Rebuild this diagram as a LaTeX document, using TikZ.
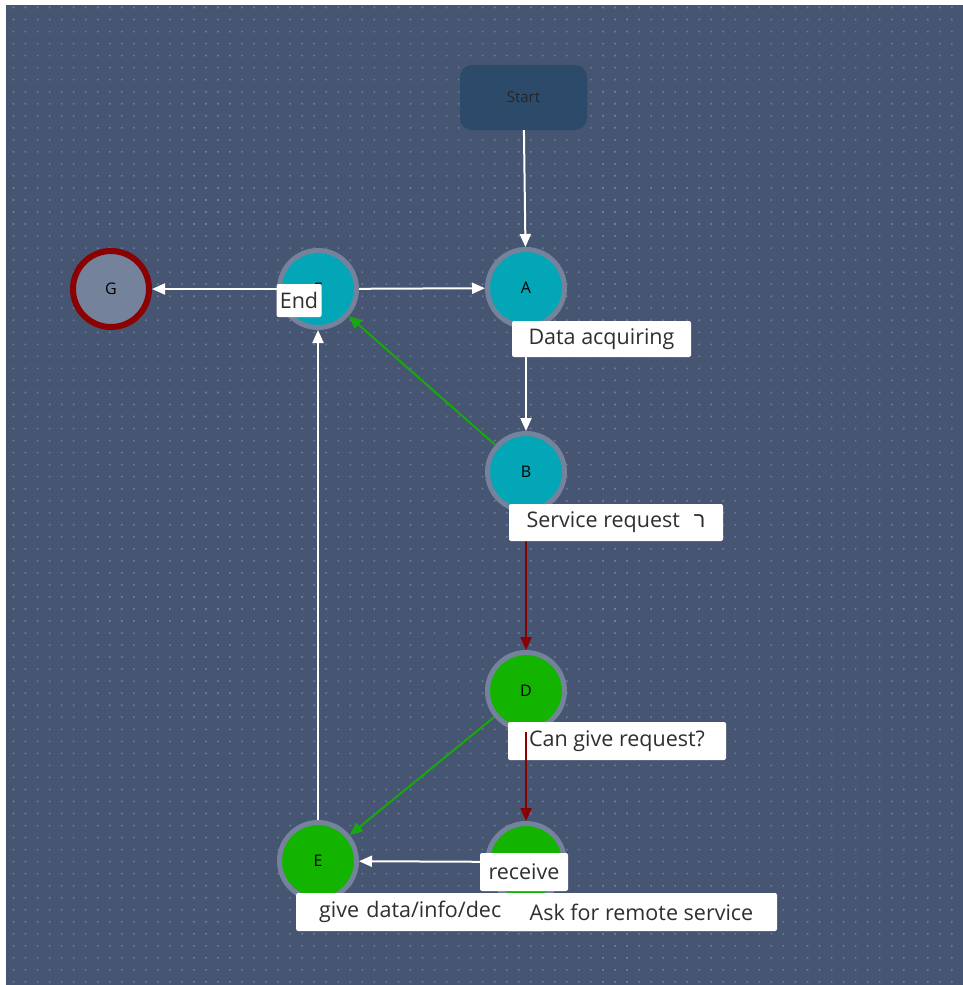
\documentclass[tikz,border=0pt]{standalone}
\usepackage{fontspec}
\setmainfont{Open Sans}
\newfontfamily\hebfont[Script=Hebrew]{Liberation Sans}
\usetikzlibrary{arrows.meta}
\definecolor{canvas}{HTML}{465571}
\definecolor{gridDot}{HTML}{6E7D98}
\definecolor{ring}{HTML}{75829C}
\definecolor{tealFill}{HTML}{02A6B7}
\definecolor{greenFill}{HTML}{12B400}
\definecolor{startFill}{HTML}{2C4A6A}
\definecolor{darkRed}{HTML}{8B0000}
\definecolor{greenEdge}{HTML}{17A80D}
\definecolor{tagText}{HTML}{2F2F2F}
\begin{document}
\begin{tikzpicture}[x=1pt,y=-1pt,
  state/.style={circle, minimum size=77pt, inner sep=0pt, line width=5pt,
    draw=ring, text=black, font=\fontsize{16}{18}\selectfont},
  tealstate/.style={state, fill=tealFill},
  greenstate/.style={state, fill=greenFill},
  finalstate/.style={state, fill=ring, draw=darkRed, line width=6pt, minimum size=76pt},
  startbox/.style={rectangle, rounded corners=12pt, fill=startFill,
    minimum width=127pt, minimum height=65pt, text=black!85,
    font=\fontsize{15}{17}\selectfont},
  tag/.style={rectangle, fill=white, rounded corners=2pt, inner sep=0pt,
    text=tagText, font=\fontsize{21.5}{25}\selectfont},
  flow/.style={line width=2pt, draw=white, -{Triangle[length=13pt,width=11pt,fill=white]}},
  flowred/.style={flow, draw=darkRed, -{Triangle[length=13pt,width=11pt,fill=darkRed]}},
  flowgreen/.style={flow, draw=greenEdge, -{Triangle[length=13pt,width=11pt,fill=greenEdge]}},
]
\useasboundingbox (0,0) rectangle (963,985);
\fill[white] (0,0) rectangle (963,985);
\fill[canvas] (6,5) rectangle (963,985);
% dotted grid
\fill[gridDot] \foreach \i in {0,...,79} { \foreach \j in {0,...,81} {
  (12.7+12.03*\i, 6.7+12.03*\j) rectangle ++(1.6,1.6) } };

% states
\node[startbox] (start) at (523.5,97.5) {Start};
\node[tealstate] (a) at (526,288) {A};
\node[tealstate] (f) at (318,289) {F};
\node[finalstate] (g) at (111,289) {G};
\node[tealstate] (b) at (526,472) {B};
\node[greenstate] (d) at (526,691) {D};
\node[greenstate] (c) at (526,862) {};
\node[greenstate] (e) at (318,861) {E};

% transitions
\draw[flow] (start) -- (a);
\draw[flow] (f) -- (a);
\draw[flow] (f) -- (g);
\draw[flow] (a) -- (b);
\draw[flowgreen] (b) -- (f);
\draw[flowred] (b) -- (d);
\draw[flowgreen] (d) -- (e);
\draw[flow] (c) -- (e);
\draw[flow] (e) -- (f);

% state labels
\node[tag, minimum width=179pt, minimum height=36pt] (la) at (601.5,339) {Data acquiring};
\node[tag, minimum width=214pt, minimum height=37pt] (lb) at (616,522.5)
  {Service request\hspace{14pt}{\hebfont ר}};
\node[tag, minimum width=218pt, minimum height=38pt] (ld) at (617,741) {Can give request?};
\draw[flowred] (d) -- (c);
\node[tag, anchor=west, inner xsep=23pt, minimum height=38pt,
  text width=204pt, align=left] (le) at (296,912) {give data/info/dec};
\node[tag, minimum width=271pt, minimum height=38pt] (lc) at (641.5,912) {Ask for remote service};

% transition labels
\node[tag, minimum width=45pt, minimum height=33pt] (lend) at (299,300.5) {End};
\node[tag, minimum width=88pt, minimum height=38pt] (lrecv) at (524,872) {receive};
\end{tikzpicture}
\end{document}
